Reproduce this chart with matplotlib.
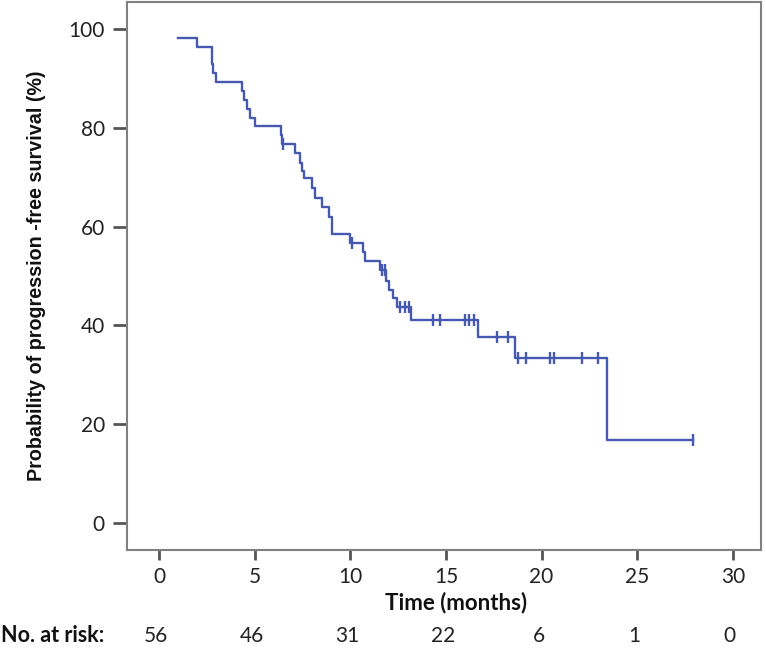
import numpy as np
import matplotlib
matplotlib.use("Agg")
import matplotlib.pyplot as plt

# Kaplan-Meier step curve
step_times = [1.0, 1.97, 2.75, 2.85, 3.0, 4.35, 4.45, 4.6, 4.76, 5.02,
              6.38, 6.45, 7.1, 7.37, 7.5, 7.6, 7.98, 8.15, 8.5, 8.9, 9.03,
              9.98, 10.68, 10.77, 11.55, 11.85, 12.0, 12.25, 12.42, 13.2,
              16.68, 18.6, 23.4]
step_surv = [98.2, 96.4, 92.9, 91.1, 89.3, 87.5, 85.7, 83.9, 82.1, 80.4,
             78.6, 76.8, 74.9, 72.9, 71.3, 69.8, 67.8, 65.8, 64.0, 62.0, 58.6,
             56.6, 54.9, 53.1, 51.2, 48.9, 47.2, 45.5, 43.7, 41.0,
             37.6, 33.3, 16.7]
end_time = 27.9
censor_times = [6.5, 10.1, 11.65, 11.8, 12.6, 12.86, 13.05, 14.3, 14.7,
                16.0, 16.2, 16.45, 17.65, 18.25, 18.75, 19.2, 20.45, 20.65,
                22.1, 22.95, 27.9]

risk_times = [0, 5, 10, 15, 20, 25, 30]
risk_counts = [56, 46, 31, 22, 6, 1, 0]

x_ticks = [0, 5, 10, 15, 20, 25, 30]
y_ticks = [0, 20, 40, 60, 80, 100]

W, H = 766, 651
fig = plt.figure(figsize=(W / 100, H / 100), dpi=100)
ax = fig.add_axes([127 / W, 1 - 550 / H, (761 - 127) / W, (550 - 2) / H])

line_col = "#4659b0"
xs = step_times + [end_time]
ys = step_surv + [step_surv[-1]]
ax.step(xs, ys, where="post", color=line_col, lw=1.7)

st = np.array(step_times)
sv = np.array(step_surv)
cy = [sv[np.searchsorted(st, c, side="right") - 1] for c in censor_times]
ax.plot(censor_times, cy, ls="none", marker="|", ms=8, mew=1.7, color=line_col)

ax.set_xlim(-1.67, 31.47)
ax.set_ylim(-5.5, 105.5)
ax.set_xticks(x_ticks)
ax.set_yticks(y_ticks)

tick_font = dict(family=["Lato", "DejaVu Sans"], size=15)
ax.set_xticklabels([str(v) for v in x_ticks], **tick_font, color="#222222")
ax.set_yticklabels([str(v) for v in y_ticks], **tick_font, color="#222222")
ax.tick_params(axis="y", length=10, width=2, color="#555555", pad=6)
ax.tick_params(axis="x", length=7, width=2, color="#555555", pad=5)
for s in ax.spines.values():
    s.set_color("#808080")
    s.set_linewidth(1.5)

ax.set_ylabel("Probability of progression -free survival (%)",
              family=["Liberation Sans", "DejaVu Sans"], fontweight="bold",
              size=14.2, color="#111111", labelpad=16)

fig.text(456 / W, 1 - 603 / H, "Time (months)", ha="center", va="center",
         family=["Lato", "DejaVu Sans"], fontweight="bold", size=16, color="#111111")
fig.text(1 / W, 1 - 636 / H, "No. at risk:", ha="left", va="center",
         family=["Lato", "DejaVu Sans"], fontweight="bold", size=15.5, color="#111111")
for t, c in zip(risk_times, risk_counts):
    xf = fig.transFigure.inverted().transform(ax.transData.transform((t, 0)))[0]
    fig.text(xf - 3 / W, 1 - 636 / H, str(c), ha="center", va="center",
             family=["Lato", "DejaVu Sans"], size=15, color="#222222")

fig.savefig("out.png", dpi=100)
